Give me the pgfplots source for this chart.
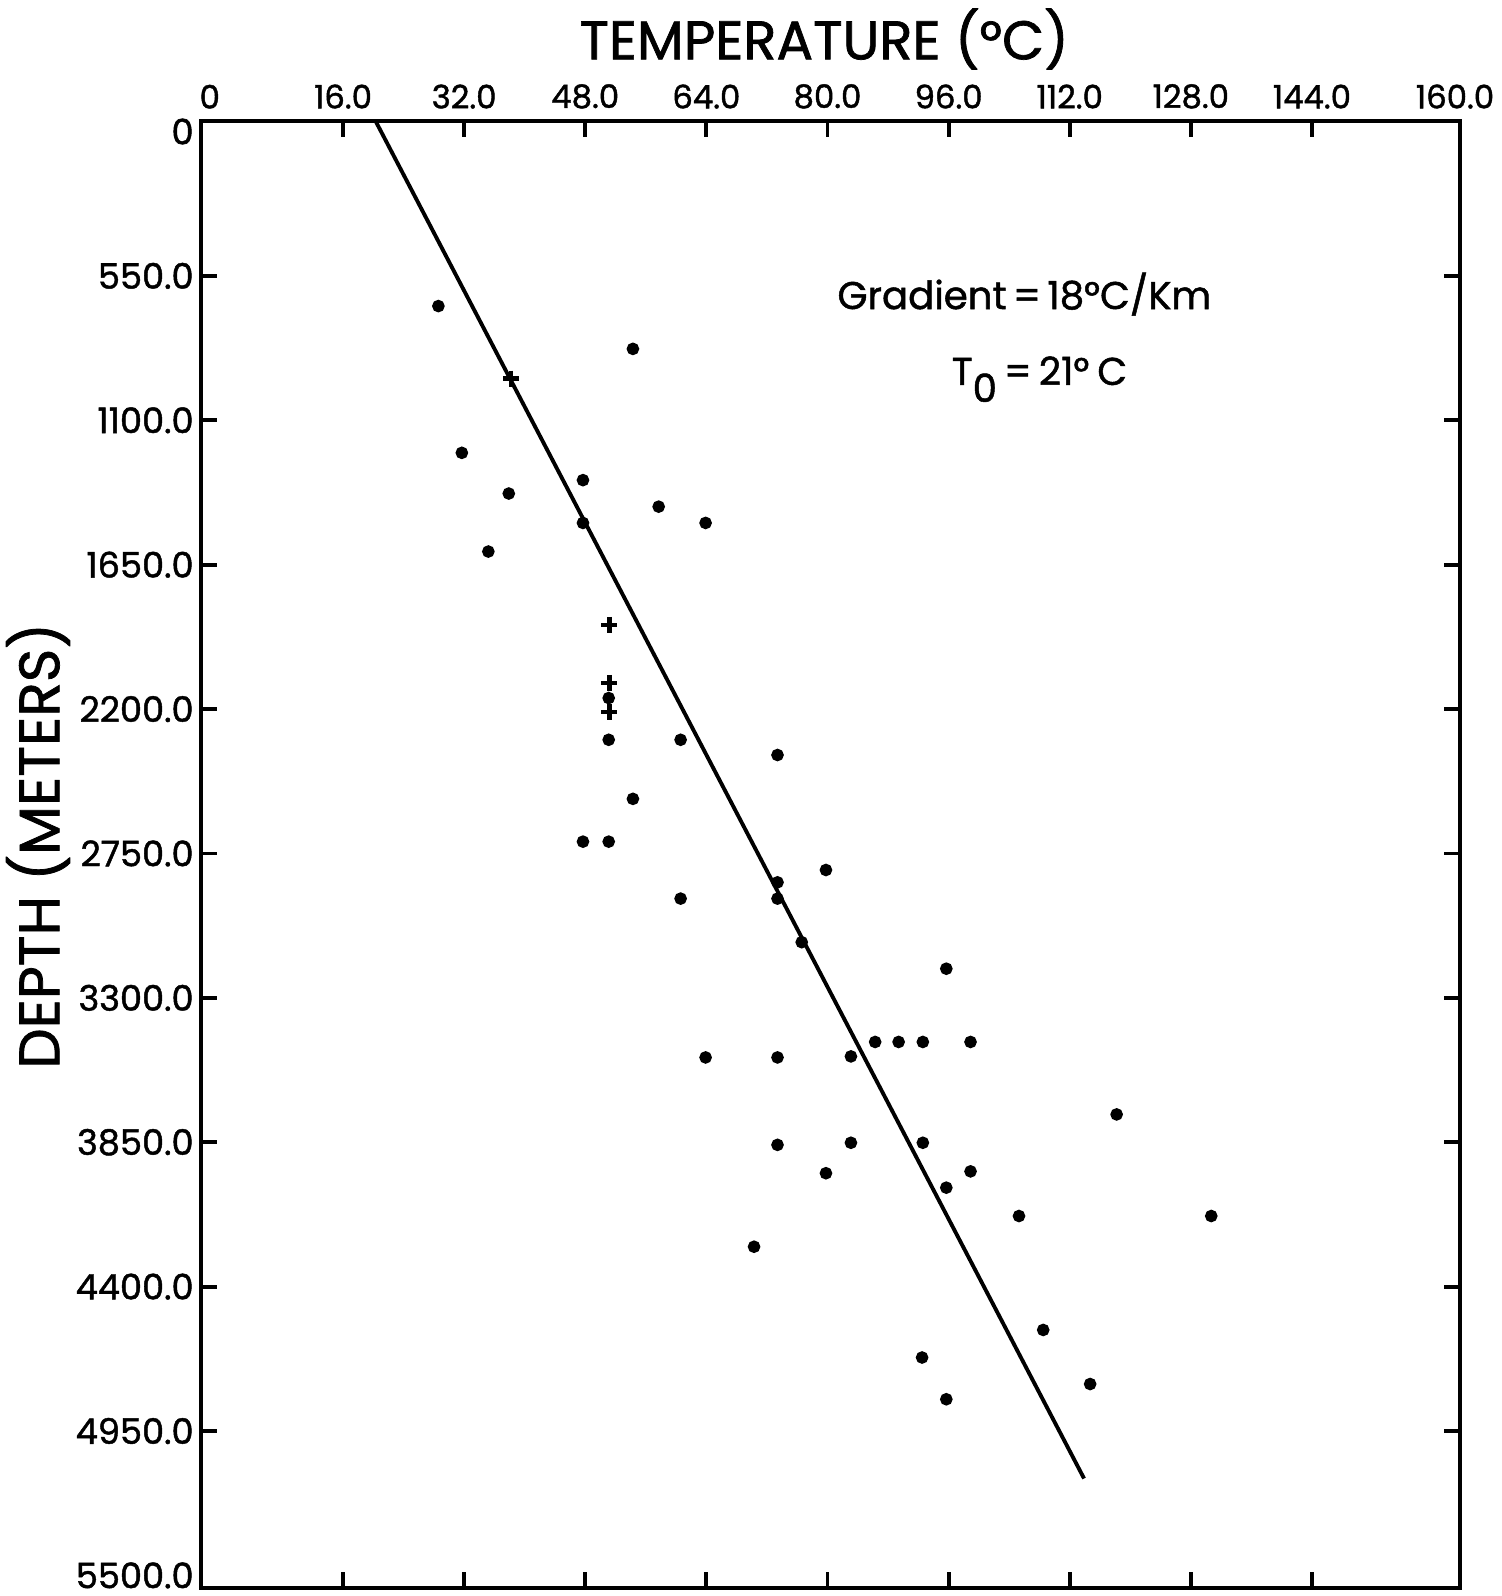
\documentclass[border=0pt]{standalone}
\usepackage{fontspec}
\setmainfont{Poppins}[BoldFont=Poppins, BoldFeatures={FakeBold=1.3}]
\usepackage{pgfplots}
\pgfplotsset{compat=1.18}

% depth (m) against temperature (deg C)
\newcommand{\fs}[1]{\fontsize{#1}{#1}\selectfont\bfseries}

\begin{document}
\begin{tikzpicture}
\useasboundingbox (-20.1mm,-0.8mm) rectangle (130.1mm,158.8mm);
\begin{axis}[
    at={(0,0)}, anchor=south west,
    scale only axis,
    width=125.9mm, height=146.7mm,
    xmin=-2.76, xmax=163.56,
    ymin=-40, ymax=5548,
    y dir=reverse,
    axis line style={line width=1.3pt},
    tick style={line width=1.1pt, black},
    major tick length=1.6mm,
    tick align=inside,
    xtick pos=both, ytick pos=both,
    xticklabel pos=upper, yticklabel pos=lower,
    xtick={16,32,48,64,80,96,112,128,144},
    xticklabels={16.0,32.0,48.0,64.0,80.0,96.0,112.0,128.0,144.0},
    extra x ticks={-1.6,162.9},
    extra x tick labels={0,160.0},
    extra x tick style={major tick length=0pt},
    ytick={550,1100,1650,2200,2750,3300,3850,4400,4950},
    yticklabels={550.0,1100.0,1650.0,2200.0,2750.0,3300.0,3850.0,4400.0,4950.0},
    extra y ticks={0,5500},
    extra y tick labels={0,5500.0},
    extra y tick style={major tick length=0pt},
    xticklabel style={font=\fs{9.2pt}},
    yticklabel style={font=\fs{10pt}, xshift=0.5mm},
    clip=false,
]
\addplot[black, line width=1.1pt] coordinates {(20.3,-40) (113.9,5131)};

\addplot[only marks, mark=*, mark size=1.6pt, black] coordinates {
(28.6,665) (54.3,828) (31.7,1224) (47.7,1328) (37.9,1379) (57.7,1429)
(47.7,1491) (63.9,1491) (35.2,1600) (51.1,2158) (51.1,2317) (60.6,2317)
(73.4,2375) (54.3,2542) (47.7,2705) (51.1,2705) (79.8,2813) (73.4,2860)
(73.4,2922) (60.6,2922) (76.6,3088) (95.7,3189) (86.3,3468) (89.4,3468)
(92.6,3468) (98.9,3468) (63.9,3527) (73.4,3527) (83.1,3523) (118.2,3744)
(73.4,3860) (83.1,3852) (92.6,3852) (98.9,3961) (79.8,3968) (95.7,4023)
(105.3,4131) (130.7,4131) (70.3,4248) (108.5,4565) (92.5,4670) (114.7,4771)
(95.7,4829)
};

\addplot[only marks, mark=+, mark size=0.8mm, black, line width=1.2pt] coordinates {
(38.2,941) (51.2,1879) (51.2,2100) (51.2,2212)
};

\node[font=\fs{15.5pt}] at (axis description cs:0.495,1) [yshift=8.2mm] {TEMPERATURE (°C)};
\node[font=\fs{16.2pt}, rotate=90] at ([xshift=-16.3mm]axis description cs:0,0.506) {DEPTH (METERS)};
\node[font=\fs{11pt}] at (axis description cs:0.654,0.882) {Gradient\,=\,18°C/Km};
\node[font=\fs{11pt}] at (axis description cs:0.666,0.824) {T\raisebox{-1.7mm}{0}\hspace{0.7mm}=\hspace{0.7mm}21°\hspace{0.8mm}C};
\end{axis}
\end{tikzpicture}
\end{document}
